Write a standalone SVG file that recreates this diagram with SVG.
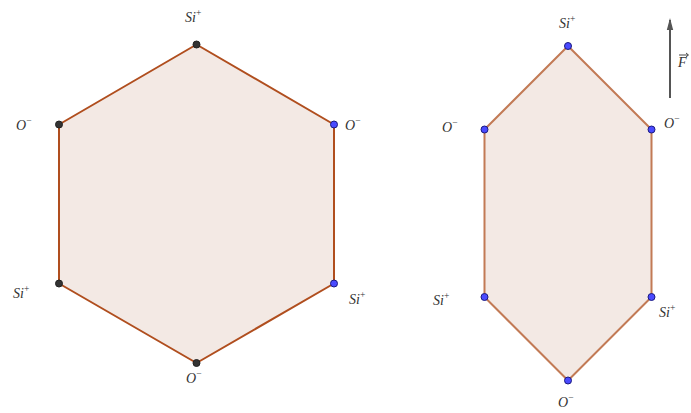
<svg xmlns="http://www.w3.org/2000/svg" width="691" height="413" viewBox="0 0 691 413">
<defs>
<style>
.lbl{font-family:"Liberation Serif","DejaVu Serif",serif;font-style:italic;font-size:14px;fill:#333}
.sup{font-size:9.5px;font-style:normal}
.pd{fill:#333;stroke:#222;stroke-width:1}
.pb{fill:#4a4aff;stroke:#1a1a80;stroke-width:1}
</style>
<marker id="ah" markerWidth="12" markerHeight="8" refX="10" refY="4" orient="auto" markerUnits="userSpaceOnUse"><path d="M0,0.8 L12,4 L0,7.2 Z" fill="#555"/></marker>
</defs>
<rect width="691" height="413" fill="#fff"/>
<g id="hex-left">
<polygon points="196.5,44.5 334,124.5 334,283.5 196.5,363 59,283.5 59,124.5" fill="#f3e9e4" stroke="#b04e1e" stroke-width="2" stroke-linejoin="round"/>
</g>
<g id="hex-right">
<polygon points="568,46 651.5,129.5 651.5,297 568,380.5 484.5,297 484.5,129.5" fill="#f3e9e4" stroke="#c27a55" stroke-width="2" stroke-linejoin="round"/>
</g>
<g id="points-left">
<circle cx="196.5" cy="44.5" r="3.5" class="pd"/>
<circle cx="59" cy="124.5" r="3.5" class="pd"/>
<circle cx="59" cy="283.5" r="3.5" class="pd"/>
<circle cx="196.5" cy="363" r="3.5" class="pd"/>
<circle cx="334" cy="124.5" r="3.5" class="pb"/>
<circle cx="334" cy="283.5" r="3.5" class="pb"/>
</g>
<g id="points-right">
<circle cx="568" cy="46" r="3.5" class="pb"/>
<circle cx="651.5" cy="129.5" r="3.5" class="pb"/>
<circle cx="651.5" cy="297" r="3.5" class="pb"/>
<circle cx="568" cy="380.5" r="3.5" class="pb"/>
<circle cx="484.5" cy="297" r="3.5" class="pb"/>
<circle cx="484.5" cy="129.5" r="3.5" class="pb"/>
</g>
<g id="labels-left">
<text class="lbl" x="185" y="22">Si<tspan class="sup" dy="-6">+</tspan></text>
<text class="lbl" x="16" y="130">O<tspan class="sup" dy="-6">−</tspan></text>
<text class="lbl" x="345" y="130">O<tspan class="sup" dy="-6">−</tspan></text>
<text class="lbl" x="13" y="298">Si<tspan class="sup" dy="-6">+</tspan></text>
<text class="lbl" x="349" y="304">Si<tspan class="sup" dy="-6">+</tspan></text>
<text class="lbl" x="186" y="383">O<tspan class="sup" dy="-6">−</tspan></text>
</g>
<g id="labels-right">
<text class="lbl" x="559" y="28">Si<tspan class="sup" dy="-6">+</tspan></text>
<text class="lbl" x="442" y="132">O<tspan class="sup" dy="-6">−</tspan></text>
<text class="lbl" x="664" y="128">O<tspan class="sup" dy="-6">−</tspan></text>
<text class="lbl" x="433" y="305">Si<tspan class="sup" dy="-6">+</tspan></text>
<text class="lbl" x="659" y="317">Si<tspan class="sup" dy="-6">+</tspan></text>
<text class="lbl" x="558" y="407">O<tspan class="sup" dy="-6">−</tspan></text>
</g>
<g id="force">
<line x1="670" y1="98" x2="670" y2="20" stroke="#555" stroke-width="2" marker-end="url(#ah)"/>
<text class="lbl" x="678" y="67">F</text>
<path d="M679,55 L688,55 M686,53 L688.5,55 L686,57" fill="none" stroke="#333" stroke-width="0.9"/>
</g>
</svg>
